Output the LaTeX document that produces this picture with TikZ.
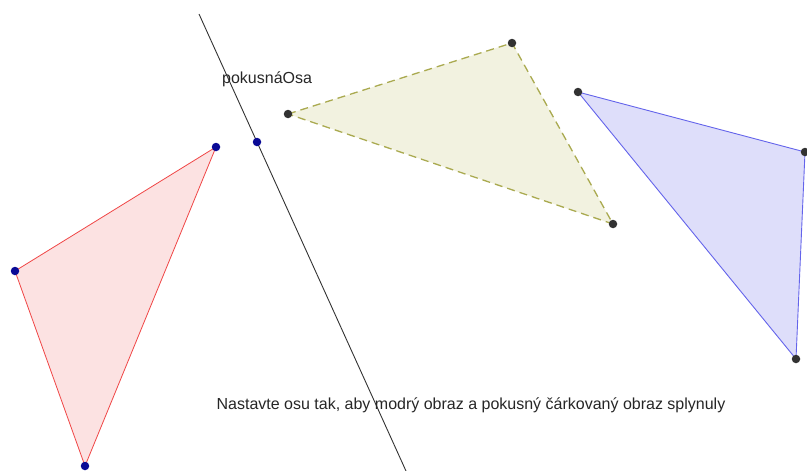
\documentclass[tikz,border=0pt]{standalone}
\usepackage{fontspec}
\setmainfont{Liberation Sans}
\usetikzlibrary{positioning}
\definecolor{redline}{RGB}{240,70,70}
\definecolor{redfill}{RGB}{252,226,226}
\definecolor{blueline}{RGB}{100,100,235}
\definecolor{bluefill}{RGB}{222,222,250}
\definecolor{oliveline}{RGB}{170,170,80}
\definecolor{olivefill}{RGB}{242,242,224}
\definecolor{navydot}{RGB}{10,10,150}
\definecolor{greydot}{RGB}{50,50,50}
\tikzset{
  bod/.style={circle,inner sep=0pt,minimum size=8.5pt,fill=#1},
  popis/.style={font=\fontsize{16}{18}\selectfont,text=black!85,inner sep=0pt}
}
\begin{document}
\begin{tikzpicture}[x=1pt,y=-1pt]
\useasboundingbox (0,0) rectangle (807,471);
% vzor
\coordinate (A) at (216,147);
\coordinate (B) at (15,271);
\coordinate (C) at (85,466);
% modry obraz
\coordinate (A1) at (578,92);
\coordinate (B1) at (805,152);
\coordinate (C1) at (796,359);
% pokusny obraz
\coordinate (A2) at (288,114);
\coordinate (B2) at (512,43);
\coordinate (C2) at (613,224);
% osa
\coordinate (O1) at (199,14);
\coordinate (O2) at (406,471);
\coordinate (P) at (257,142);
\filldraw[fill=redfill,draw=redline,line width=0.8pt] (A) -- (B) -- (C) -- cycle;
\filldraw[fill=bluefill,draw=blueline,line width=0.9pt] (A1) -- (B1) -- (C1) -- cycle;
\fill[olivefill] (A2) -- (B2) -- (C2) -- cycle;
\draw[oliveline,line width=1.3pt,dash pattern=on 8pt off 5pt] (A2) -- (B2) -- (C2) -- cycle;
\draw[black!80,line width=0.9pt] (O1) -- (O2);
\node[popis,anchor=west] (osa) at (222,79) {pokusnáOsa};
\node[popis] (zadani) at (471,405) {Nastavte osu tak, aby modrý obraz a pokusný čárkovaný obraz splynuly};
\foreach \b in {A,B,C,P} \node[bod=navydot] (b\b) at (\b) {};
\foreach \b in {A1,B1,C1,A2,B2,C2} \node[bod=greydot] (b\b) at (\b) {};
\end{tikzpicture}
\end{document}
